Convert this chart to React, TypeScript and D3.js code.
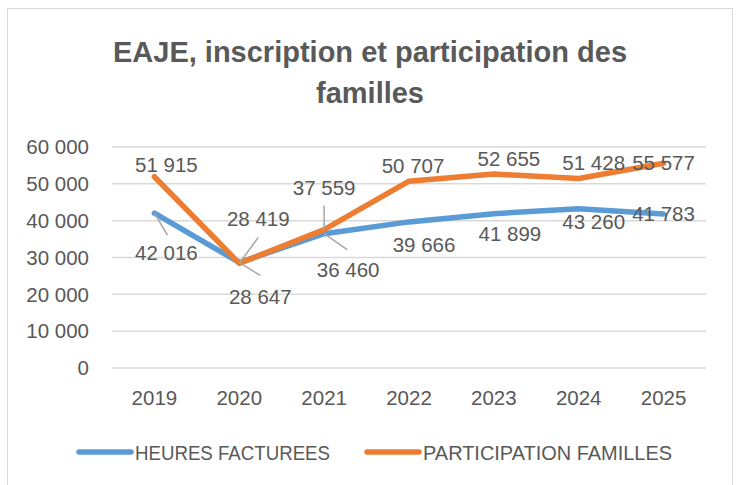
import React from 'react';
import * as d3 from 'd3';

// chart data
const years = ['2019', '2020', '2021', '2022', '2023', '2024', '2025'];
const heuresFacturees = [42016, 28647, 36460, 39666, 41899, 43260, 41783];
const participationFamilles = [51915, 28419, 37559, 50707, 52655, 51428, 55577];
const yTicks = [0, 10000, 20000, 30000, 40000, 50000, 60000];
const seriesNames = ['HEURES FACTUREES', 'PARTICIPATION FAMILLES'];

// label placement, relative to each point: [dx, dy] (text centre, baseline)
const blueLabelOffsets = [[12, 47], [21, 42], [24, 43], [15, 30], [16, 27], [15, 20], [0, 7]];
const orangeLabelOffsets = [[12, -5], [19, -37], [0, -35], [4, -8], [15, -8], [15, -9], [0, 7]];
// leader lines (end point relative to the data point), null = none
const blueLeaders = [[13, 22], [21, 13], [23, 16], null, null, null, null];
const orangeLeaders = [null, [19, -26], [0, -24], null, null, null, null];

const W = 740;
const H = 485;
const TEXT = '#595959';
const BLUE = '#5b9bd5';
const ORANGE = '#ed7d31';
const FONT = '"Liberation Sans", Arial, sans-serif';

const fmt = (v: number) => d3.format(',')(v).replace(/,/g, ' ');

export default function App() {
    const x = d3.scaleBand<string>().domain(years).range([112, 706]).padding(0);
    const y = d3.scaleLinear().domain([0, 60000]).range([368, 147]);
    const cx = (i: number) => (x(years[i]) as number) + x.bandwidth() / 2;

    const line = d3.line<number>()
        .x((d, i) => cx(i))
        .y(d => y(d));

    const series = [
        { name: seriesNames[0], values: heuresFacturees, color: BLUE, offsets: blueLabelOffsets, leaders: blueLeaders },
        { name: seriesNames[1], values: participationFamilles, color: ORANGE, offsets: orangeLabelOffsets, leaders: orangeLeaders },
    ];

    return (
        <svg width={W} height={H} style={{ position: 'absolute', left: 0, top: 0, background: '#fff' }}
             fontFamily={FONT}>
            <rect x={7.5} y={8.5} width={725} height={490} fill="#fff" stroke="#d9d9d9" strokeWidth={1} />

            <text x={370} y={62} textAnchor="middle" fontSize={29} fontWeight="bold" fill={TEXT}>
                EAJE, inscription et participation des
            </text>
            <text x={370} y={103} textAnchor="middle" fontSize={29} fontWeight="bold" fill={TEXT}>
                familles
            </text>

            {yTicks.map(t => (
                <g key={t}>
                    <line x1={112} x2={706} y1={y(t)} y2={y(t)} stroke="#d9d9d9" strokeWidth={1.5} />
                    <text x={89} y={y(t) + 7.3} textAnchor="end" fontSize={20.5} fill={TEXT}>{fmt(t)}</text>
                </g>
            ))}

            {years.map((yr, i) => (
                <text key={yr} x={cx(i)} y={405} textAnchor="middle" fontSize={20.5} fill={TEXT}>{yr}</text>
            ))}

            {series.map(s => (
                <path key={s.name} d={line(s.values) as string} fill="none" stroke={s.color}
                      strokeWidth={5.5} strokeLinejoin="round" strokeLinecap="round" />
            ))}

            {series.map(s => s.leaders.map((l, i) => l && (
                <line key={s.name + i} x1={cx(i)} y1={y(s.values[i])} x2={cx(i) + l[0]} y2={y(s.values[i]) + l[1]}
                      stroke="#a6a6a6" strokeWidth={1.5} />
            )))}

            {series.map(s => s.values.map((v, i) => (
                <text key={s.name + 'l' + i} x={cx(i) + s.offsets[i][0]} y={y(v) + s.offsets[i][1]}
                      textAnchor="middle" fontSize={20.5} fill={TEXT}>{fmt(v)}</text>
            )))}

            {/* legend */}
            <line x1={79} x2={131} y1={452} y2={452} stroke={BLUE} strokeWidth={5.5} strokeLinecap="round" />
            <text x={135} y={459.5} fontSize={20} textLength={195} lengthAdjust="spacingAndGlyphs" fill={TEXT}>{seriesNames[0]}</text>
            <line x1={367} x2={419} y1={452} y2={452} stroke={ORANGE} strokeWidth={5.5} strokeLinecap="round" />
            <text x={423} y={459.5} fontSize={20} textLength={249} lengthAdjust="spacingAndGlyphs" fill={TEXT}>{seriesNames[1]}</text>
        </svg>
    );
}
